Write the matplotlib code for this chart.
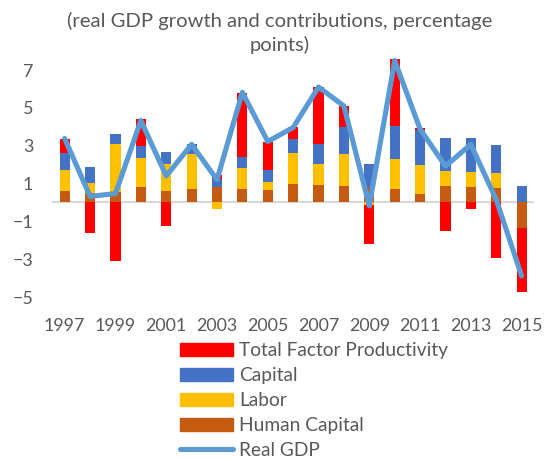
import matplotlib
matplotlib.use("Agg")
import matplotlib.pyplot as plt
from matplotlib.patches import Patch
from matplotlib.lines import Line2D
import numpy as np

years = list(range(1997, 2016))
human_capital = [0.63, 0.50, 0.55, 0.83, 0.58, 0.70, 0.83, 0.70, 0.65, 0.97, 0.92, 0.88, 0.80, 0.70, 0.44, 0.88, 0.83, 0.76, -1.36]
labor = [1.06, 0.55, 2.52, 1.52, 1.45, 1.85, -0.35, 1.11, 0.44, 1.62, 1.11, 1.68, -0.15, 1.62, 1.53, 0.79, 0.76, 0.79, 0.0]
capital = [0.93, 0.85, 0.53, 0.62, 0.62, 0.53, 0.40, 0.60, 0.62, 0.76, 1.06, 1.41, 1.25, 1.73, 1.87, 1.73, 1.82, 1.50, 0.88]
tfp = [0.76, -1.60, -3.12, 1.45, -1.23, 0.0, 0.20, 3.37, 1.50, 0.62, 3.00, 1.15, -2.05, 3.52, 0.09, -1.50, -0.35, -2.94, -3.35]
real_gdp = [3.38, 0.32, 0.47, 4.33, 1.40, 3.07, 1.20, 5.82, 3.22, 3.96, 6.10, 5.10, -0.18, 7.50, 3.88, 1.92, 3.07, 0.15, -3.88]

series_names = ["Human Capital", "Labor", "Capital", "Total Factor Productivity"]
series_vals = [human_capital, labor, capital, tfp]
series_colors = ["#C55A11", "#FFC000", "#4472C4", "#FF0000"]
line_color = "#5B9BD5"
text_color = "#595959"

plt.rcParams['font.family'] = ['Lato', 'DejaVu Sans']
fs = 12.9
fs_big = 13.8
fs_title = 14.6

fig = plt.figure(figsize=(5.49, 4.58), dpi=100)
W, H = 549, 458
left, right = 52 / W, 534.3 / W
top, bottom = 1 - 51.1 / H, 1 - 306.5 / H
ax = fig.add_axes([left, bottom, right - left, top - bottom])

x = np.arange(len(years))
pos_base = np.zeros(len(years))
neg_base = np.zeros(len(years))
ax.axhline(0, color="#D9D9D9", lw=1.5, zorder=1)
for name, vals, col in zip(series_names, series_vals, series_colors):
    v = np.array(vals)
    b = np.where(v >= 0, pos_base, neg_base)
    ax.bar(x, v, 0.4, bottom=b, color=col, zorder=2)
    pos_base = pos_base + np.where(v >= 0, v, 0)
    neg_base = neg_base + np.where(v < 0, v, 0)

ax.plot(x, real_gdp, color=line_color, lw=3.7, solid_joinstyle='round', solid_capstyle='round', zorder=3)

ax.set_xlim(-0.5, len(years) - 0.5)
ax.set_ylim(-5.5, 8)
ax.set_yticks([-5, -3, -1, 1, 3, 5, 7])
ax.set_xticks(x[::2])
ax.set_xticklabels([str(y) for y in years[::2]])
ax.tick_params(axis='both', length=0, labelsize=fs, colors=text_color)
ax.tick_params(axis='x', pad=8)
ax.tick_params(axis='y', pad=13.5)
for s in ax.spines.values():
    s.set_visible(False)

fig.text(280 / W, 1 - 21 / H, "(real GDP growth and contributions, percentage",
         ha='center', va='center', fontsize=fs_title, color=text_color)
fig.text(280 / W, 1 - 45 / H, "points)",
         ha='center', va='center', fontsize=fs_title, color=text_color)

handles = [Patch(color=series_colors[3]), Patch(color=series_colors[2]),
           Patch(color=series_colors[1]), Patch(color=series_colors[0]),
           Line2D([0], [0], color=line_color, lw=3.7, solid_capstyle='round')]
labels = ["Total Factor Productivity", "Capital", "Labor", "Human Capital", "Real GDP"]
leg = fig.legend(handles, labels, loc='upper left', bbox_to_anchor=(180 / W, 1 - 342 / H),
                 frameon=False, fontsize=fs_big, handlelength=2.75, handletextpad=0.32,
                 labelspacing=0.42, borderpad=0, borderaxespad=0)
for t in leg.get_texts():
    t.set_color(text_color)

fig.savefig("out.png", dpi=100)
